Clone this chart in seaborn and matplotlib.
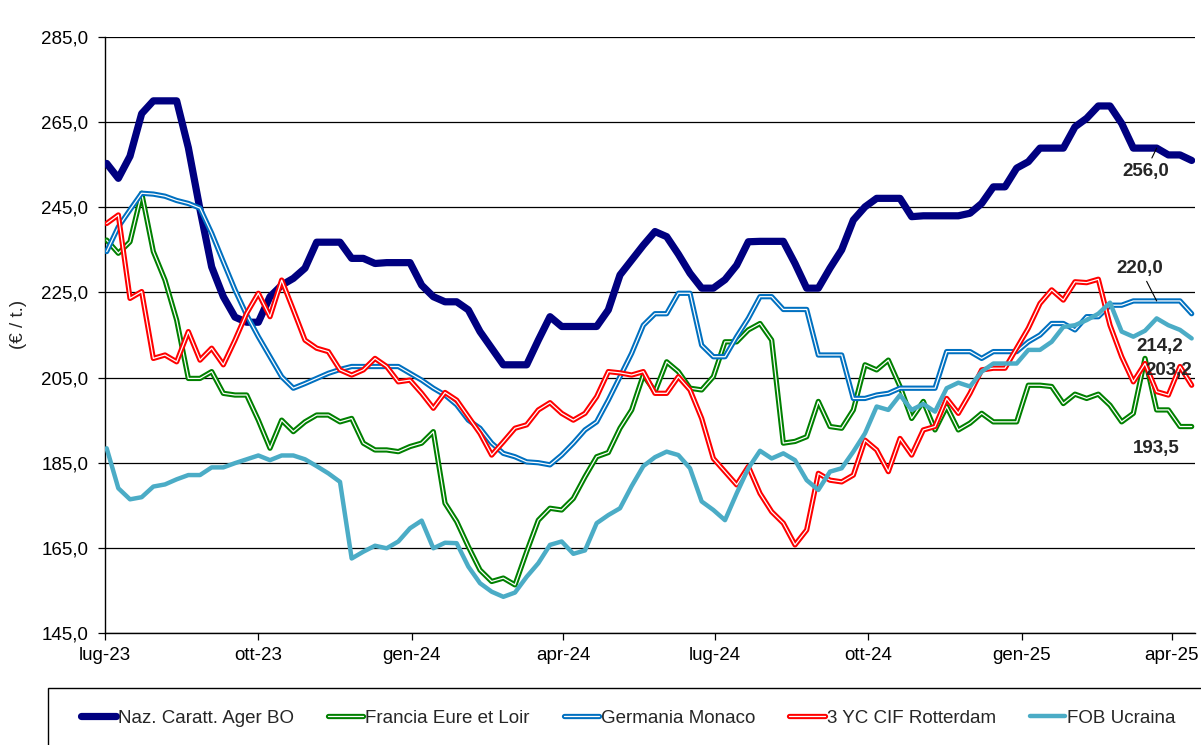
import numpy as np
import pandas as pd
import matplotlib
matplotlib.use("Agg")
import matplotlib.pyplot as plt
import seaborn as sns
from matplotlib.lines import Line2D
from matplotlib.legend_handler import HandlerTuple
from matplotlib.patches import Rectangle
from matplotlib.ticker import FuncFormatter

# ── Data (weekly prices, €/t) ────────────────────────────────────────────────
start_date = "2023-07-03"
n_weeks = 94

naz_ager_bo = [
    255.3, 251.8, 257.0, 267.0, 270.0, 270.0, 270.0, 259.0, 244.5, 231.0,
    224.0, 219.2, 218.0, 218.0, 224.0, 226.7, 228.3, 230.7, 236.8, 236.8,
    236.8, 233.0, 233.0, 231.8, 232.0, 232.0, 232.0, 226.7, 224.0, 222.8,
    222.8, 220.9, 215.8, 211.9, 208.0, 208.0, 208.0, 213.8, 219.3, 217.0,
    217.0, 217.0, 217.0, 220.9, 229.1, 232.6, 236.1, 239.3, 238.1, 234.0,
    229.5, 226.0, 226.0, 228.0, 231.4, 236.9, 237.0, 237.0, 237.0, 231.8,
    226.0, 226.0, 230.7, 235.0, 242.0, 245.1, 247.1, 247.1, 247.1, 242.8,
    243.0, 243.0, 243.0, 243.0, 243.6, 245.9, 249.8, 249.8, 254.2, 255.7,
    258.9, 258.9, 258.9, 263.9, 265.9, 268.8, 268.8, 264.7, 258.9, 258.9,
    258.9, 257.3, 257.3, 256.0,
]
francia_eure = [
    237.3, 234.2, 236.9, 248.3, 234.6, 227.9, 218.5, 204.8, 204.8, 206.4,
    201.3, 200.9, 200.9, 195.0, 188.4, 195.0, 192.3, 194.6, 196.2, 196.2,
    194.6, 195.4, 189.6, 188.0, 188.0, 187.6, 188.8, 189.6, 192.3, 175.5,
    171.2, 165.3, 159.8, 157.1, 157.9, 156.3, 164.1, 171.5, 174.3, 173.9,
    176.6, 181.7, 186.4, 187.4, 193.1, 197.4, 205.6, 201.7, 208.7, 206.4,
    202.5, 202.1, 205.2, 213.4, 213.4, 216.2, 217.7, 213.8, 189.6, 190.0,
    191.1, 199.4, 193.5, 193.1, 197.4, 208.0, 206.8, 209.1, 202.9, 195.4,
    199.4, 192.7, 198.2, 192.7, 194.3, 196.6, 194.6, 194.6, 194.6, 203.2,
    203.2, 202.9, 198.9, 201.1, 200.1, 201.1, 198.5, 194.6, 196.6, 209.5,
    197.4, 197.4, 193.5, 193.5,
]
germania_monaco = [
    234.6, 240.4, 244.4, 248.3, 248.1, 247.6, 246.6, 245.9, 244.8, 238.9,
    232.2, 225.6, 219.7, 214.6, 209.9, 205.2, 202.5, 203.6, 204.8, 206.0,
    206.9, 207.6, 207.6, 207.6, 207.6, 207.6, 206.0, 204.4, 202.5, 200.9,
    198.6, 195.0, 193.1, 189.6, 187.2, 186.4, 185.2, 185.0, 184.5, 186.8,
    189.6, 192.7, 194.6, 199.7, 205.2, 210.7, 217.3, 220.0, 220.0, 224.8,
    224.8, 212.6, 209.9, 209.9, 214.6, 218.9, 224.0, 224.0, 221.0, 221.0,
    221.0, 210.3, 210.3, 210.3, 200.1, 200.1, 200.9, 201.3, 202.5, 202.5,
    202.5, 202.5, 211.1, 211.1, 211.1, 209.5, 211.1, 211.1, 211.1, 213.4,
    215.0, 217.7, 217.7, 216.2, 219.3, 219.3, 222.0, 222.0, 223.0, 223.0,
    223.0, 223.0, 223.0, 220.0,
]
cif_rotterdam = [
    241.2, 243.2, 223.6, 225.2, 209.5, 210.3, 208.7, 215.8, 209.1, 211.9,
    208.0, 213.8, 220.1, 224.8, 219.3, 227.9, 220.9, 213.8, 211.9, 211.1,
    206.8, 205.6, 206.8, 209.5, 207.6, 204.0, 204.4, 201.3, 197.8, 201.5,
    199.7, 195.8, 191.9, 186.8, 189.9, 193.1, 193.9, 197.4, 199.1, 196.6,
    195.0, 196.6, 200.5, 206.4, 206.1, 205.6, 206.4, 201.3, 201.3, 205.2,
    202.1, 195.4, 186.0, 182.9, 179.8, 184.1, 177.8, 173.5, 170.8, 165.7,
    169.2, 182.5, 180.9, 180.5, 182.1, 190.3, 188.0, 182.9, 190.7, 186.8,
    192.7, 193.5, 200.1, 196.6, 201.3, 206.8, 207.2, 207.2, 211.9, 216.6,
    222.4, 225.6, 223.2, 227.5, 227.3, 228.1, 217.3, 209.9, 204.0, 208.3,
    201.7, 200.9, 207.6, 203.2,
]
fob_ucraina = [
    188.4, 179.0, 176.4, 176.9, 179.4, 179.9, 181.1, 182.1, 182.1, 183.9,
    183.9, 184.9, 185.8, 186.7, 185.6, 186.7, 186.7, 185.8, 184.2, 182.5,
    180.5, 162.5, 164.1, 165.5, 164.9, 166.5, 169.6, 171.4, 164.9, 166.2,
    166.1, 160.6, 156.7, 154.7, 153.5, 154.5, 158.2, 161.4, 165.7, 166.5,
    163.6, 164.4, 170.8, 172.7, 174.3, 179.5, 184.2, 186.3, 187.6, 186.8,
    183.7, 175.9, 173.9, 171.5, 177.8, 183.7, 187.8, 186.0, 187.2, 185.6,
    180.9, 178.6, 182.9, 183.7, 187.6, 191.9, 198.2, 197.4, 200.9, 197.4,
    198.8, 197.0, 202.5, 203.8, 202.9, 206.4, 208.3, 208.3, 208.3, 211.5,
    211.5, 213.4, 216.9, 217.3, 218.5, 220.0, 222.6, 215.8, 214.6, 216.0,
    218.9, 217.3, 216.2, 214.2,
]

series_names = ["Naz. Caratt. Ager BO", "Francia Eure et Loir", "Germania Monaco",
                "3 YC CIF Rotterdam", "FOB Ucraina"]
x_tick_labels = ["lug-23", "ott-23", "gen-24", "apr-24", "lug-24", "ott-24", "gen-25", "apr-25"]
y_ticks = [145, 165, 185, 205, 225, 245, 265, 285]

# ── Styling ──────────────────────────────────────────────────────────────────
sns.set_style("white")
plt.rcParams["font.family"] = ["Liberation Sans", "DejaVu Sans"]
FS = 13.5

# name: (color, outer width, double-line?)
styles = {
    "Naz. Caratt. Ager BO": ("#000080", 5.2, False),
    "Francia Eure et Loir": ("#008000", 3.8, True),
    "Germania Monaco":      ("#0070C0", 3.8, True),
    "3 YC CIF Rotterdam":   ("#FF0000", 3.8, True),
    "FOB Ucraina":          ("#4BACC6", 3.2, False),
}

dates = pd.date_range(start_date, periods=n_weeks, freq="7D")
df = pd.DataFrame({
    "date": dates,
    series_names[0]: naz_ager_bo,
    series_names[1]: francia_eure,
    series_names[2]: germania_monaco,
    series_names[3]: cif_rotterdam,
    series_names[4]: fob_ucraina,
})

fig = plt.figure(figsize=(12.01, 7.45), dpi=100)
ax = fig.add_axes([105 / 1201, 1 - 633 / 745, 1090 / 1201, 596 / 745])

handles = []
for i, name in enumerate(series_names):
    color, lw, double = styles[name]
    sns.lineplot(data=df, x="date", y=name, ax=ax, color=color, lw=lw,
                 zorder=3 + i, legend=False)
    h_outer = Line2D([], [], color=color, lw=lw)
    if double:
        sns.lineplot(data=df, x="date", y=name, ax=ax, color="white", lw=0.9,
                     zorder=3 + i, legend=False)
        handles.append((h_outer, Line2D([], [], color="white", lw=0.9)))
    else:
        handles.append(h_outer)

# ── Axes ─────────────────────────────────────────────────────────────────────
ax.set_ylim(y_ticks[0], y_ticks[-1])
ax.set_yticks(y_ticks)
ax.yaxis.set_major_formatter(FuncFormatter(lambda v, _: f"{v:.1f}".replace(".", ",")))
ax.grid(axis="y", color="black", lw=0.9, zorder=1)
ax.grid(axis="x", visible=False)

ax.set_xlim(dates[0] - pd.Timedelta(days=1), dates[-1] + pd.Timedelta(days=2))
tick_dates = [dates[0] - pd.Timedelta(days=1) + pd.DateOffset(months=3 * i)
              for i in range(len(x_tick_labels))]
ax.set_xticks(tick_dates)
ax.set_xticklabels(x_tick_labels)

for side in ["top", "right"]:
    ax.spines[side].set_visible(False)
for side in ["left", "bottom"]:
    ax.spines[side].set_color("black")
    ax.spines[side].set_linewidth(1.0)

ax.tick_params(axis="both", direction="out", length=5, width=0.9, colors="black",
               labelsize=FS, bottom=True, left=True)
ax.tick_params(axis="y", pad=7)
ax.tick_params(axis="x", pad=5)

ax.set_xlabel("")
ax.set_ylabel("(€ / t.)", fontsize=FS)
ax.yaxis.set_label_coords(-0.072, 0.517)

# ── End-value labels ─────────────────────────────────────────────────────────
def fmt(v):
    return f"{v:.1f}".replace(".", ",")

lab_kw = dict(textcoords="offset points", ha="center", va="center",
              fontsize=FS, fontweight="bold", zorder=10)
leader = dict(arrowstyle="-", color="black", lw=0.8, shrinkA=1, shrinkB=0)

ax.annotate(fmt(naz_ager_bo[-1]), xy=(dates[-4], naz_ager_bo[-4]),
            xytext=(-8, -16.5), arrowprops=leader, **lab_kw)
ax.annotate(fmt(germania_monaco[-1]), xy=(dates[-4], germania_monaco[-4]),
            xytext=(-12, 23.5), arrowprops=leader, **lab_kw)
ax.annotate(fmt(fob_ucraina[-1]), xy=(dates[-1], fob_ucraina[-1]),
            xytext=(-23, -5.5), **lab_kw)
ax.annotate(fmt(cif_rotterdam[-1]), xy=(dates[-1], cif_rotterdam[-1]),
            xytext=(-16.5, 10.5), **lab_kw)
ax.annotate(fmt(francia_eure[-1]), xy=(dates[-1], francia_eure[-1]),
            xytext=(-25.5, -15.5), **lab_kw)

# ── Legend box ───────────────────────────────────────────────────────────────
fig.patches.append(Rectangle((48 / 1201, -0.05), 1.2, 1 - 688 / 745 + 0.05,
                             transform=fig.transFigure, fill=False,
                             edgecolor="black", lw=1.0))
fig.legend(handles, series_names, loc="center", ncol=5,
           bbox_to_anchor=(628 / 1201, 1 - 718 / 745),
           frameon=False, fontsize=FS, handlelength=1.9, handletextpad=0.1,
           columnspacing=1.8, handler_map={tuple: HandlerTuple(ndivide=1, pad=0)})

fig.savefig("out.png", dpi=100)
plt.close(fig)
